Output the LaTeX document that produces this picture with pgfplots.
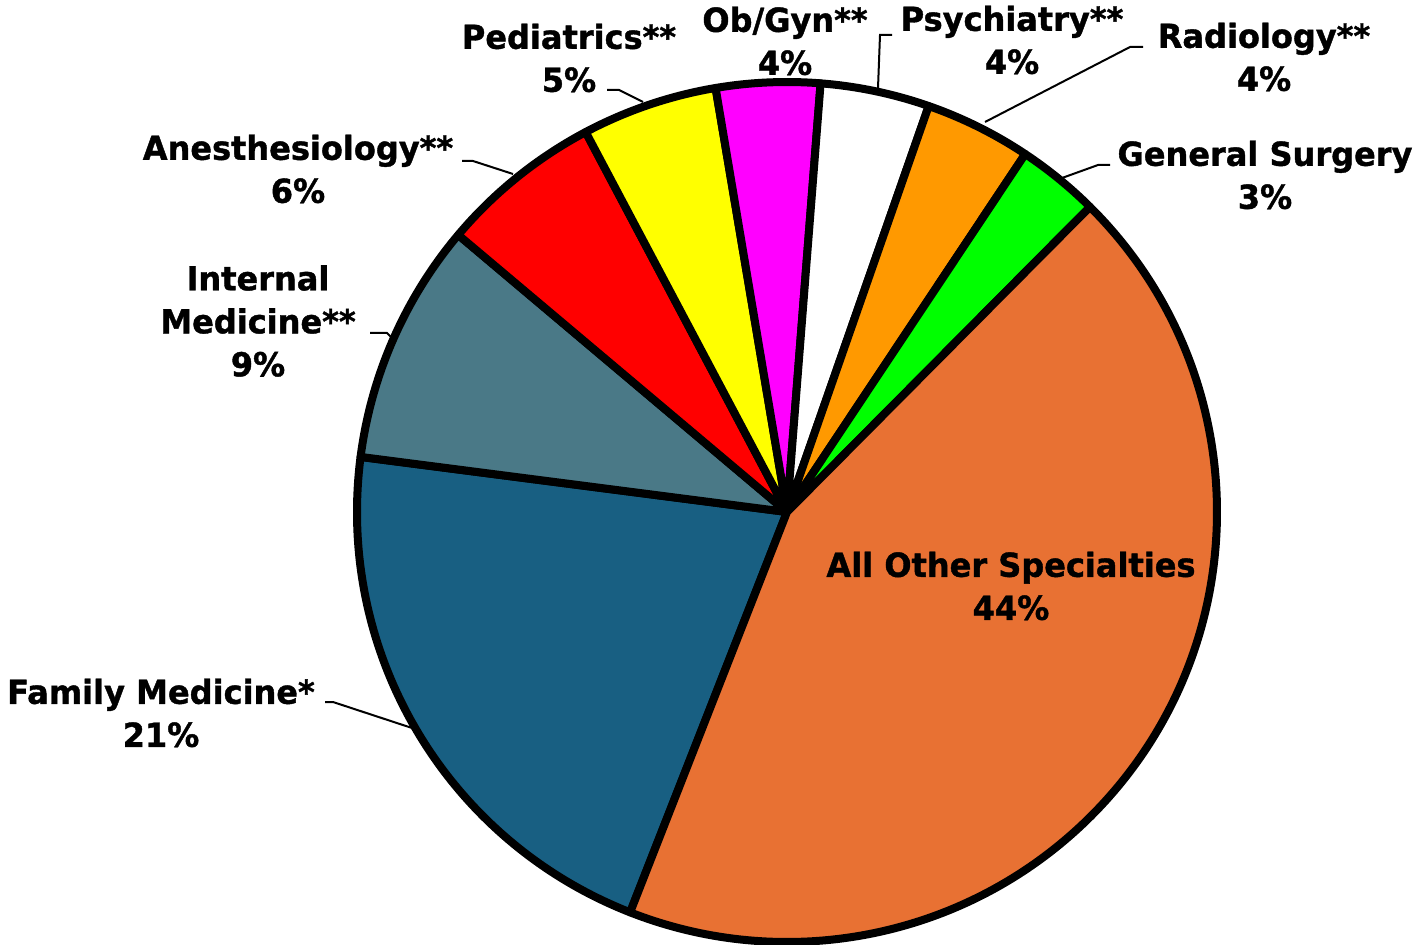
\documentclass[border=0pt]{standalone}
\usepackage{fontspec}
\setmainfont{DejaVu Sans}[FakeStretch=0.97, BoldFeatures={FakeBold=1.2}]
\usepackage{pgfplots}
\pgfplotsset{compat=1.18}
\usepackage{pgfplotstable}

\definecolor{cFM}{RGB}{24,95,130}
\definecolor{cIM}{RGB}{74,121,135}
\definecolor{cAn}{RGB}{255,0,0}
\definecolor{cPe}{RGB}{255,255,0}
\definecolor{cOb}{RGB}{255,0,255}
\definecolor{cPs}{RGB}{255,255,255}
\definecolor{cRa}{RGB}{255,153,0}
\definecolor{cGS}{RGB}{0,255,0}
\definecolor{cOt}{RGB}{232,113,51}

% share of residents by specialty, clockwise from Family Medicine
\pgfplotstableread{
pct  col
21.1 cFM
9.1  cIM
6.1  cAn
5.1  cPe
3.9  cOb
4.1  cPs
4.0  cRa
3.1  cGS
43.5 cOt
}\piedata

% cumulative slice angles
\def\cumangle{248.6}
\pgfplotsforeachungrouped \i in {0,...,8}{%
  \pgfplotstablegetelem{\i}{pct}\of\piedata
  \pgfmathsetmacro\endangle{\cumangle-3.6*\pgfplotsretval}%
  \expandafter\xdef\csname sa\i\endcsname{\cumangle}%
  \expandafter\xdef\csname ea\i\endcsname{\endangle}%
  \pgfplotstablegetelem{\i}{col}\of\piedata
  \expandafter\xdef\csname co\i\endcsname{\pgfplotsretval}%
  \xdef\cumangle{\endangle}%
}

\tikzset{lbl/.style={font=\fontsize{16.5}{21.5}\selectfont\bfseries,
    align=center, inner sep=0pt}}

\begin{document}
\begin{tikzpicture}
\begin{axis}[
  width=706.5pt, height=472pt, scale only axis,
  xmin=0, xmax=1413, ymin=0, ymax=944,
  hide axis, clip=false,
]
\pgfplotsinvokeforeach{0,...,8}{%
  \edef\slice{\noexpand\filldraw[fill=\csname co#1\endcsname, draw=black,
      line width=4pt, line join=round]
    (axis cs:787,432) --
    (axis cs:{787+430*cos(\csname sa#1\endcsname)},{432+430*sin(\csname sa#1\endcsname)})
    arc[start angle=\csname sa#1\endcsname, end angle=\csname ea#1\endcsname, radius=215pt]
    -- cycle;}%
  \slice
}

% leader lines
\draw[line width=1pt] (axis cs:607,854) -- (axis cs:619,854) -- (axis cs:643,842);
\draw[line width=1pt] (axis cs:892,909) -- (axis cs:880,909) -- (axis cs:878,856);
\draw[line width=1pt] (axis cs:1143,897) -- (axis cs:1130,897) -- (axis cs:985,822);
\draw[line width=1pt] (axis cs:1110,779) -- (axis cs:1098,779) -- (axis cs:1062,766);
\draw[line width=1pt] (axis cs:462,783) -- (axis cs:473,783) -- (axis cs:513,770);
\draw[line width=1pt] (axis cs:370,611) -- (axis cs:387,611) -- (axis cs:392,606);
\draw[line width=1pt] (axis cs:325,242) -- (axis cs:333,242) -- (axis cs:412,216);

% labels
\node[lbl] at (axis cs:569,886) {Pediatrics**\\5\%};
\node[lbl] at (axis cs:785,903) {Ob/Gyn**\\4\%};
\node[lbl] at (axis cs:1012,904) {Psychiatry**\\4\%};
\node[lbl] at (axis cs:1264,887) {Radiology**\\4\%};
\node[lbl] at (axis cs:1265,769) {General Surgery\\3\%};
\node[lbl] at (axis cs:298,775) {Anesthesiology**\\6\%};
\node[lbl] at (axis cs:258,623) {Internal\\Medicine**\\9\%};
\node[lbl] at (axis cs:161,231) {Family Medicine*\\21\%};
\node[lbl] at (axis cs:1011,358) {All Other Specialties\\44\%};
\end{axis}
\pgfresetboundingbox
\path (current axis.south west) rectangle (current axis.north east);
\end{tikzpicture}
\end{document}
